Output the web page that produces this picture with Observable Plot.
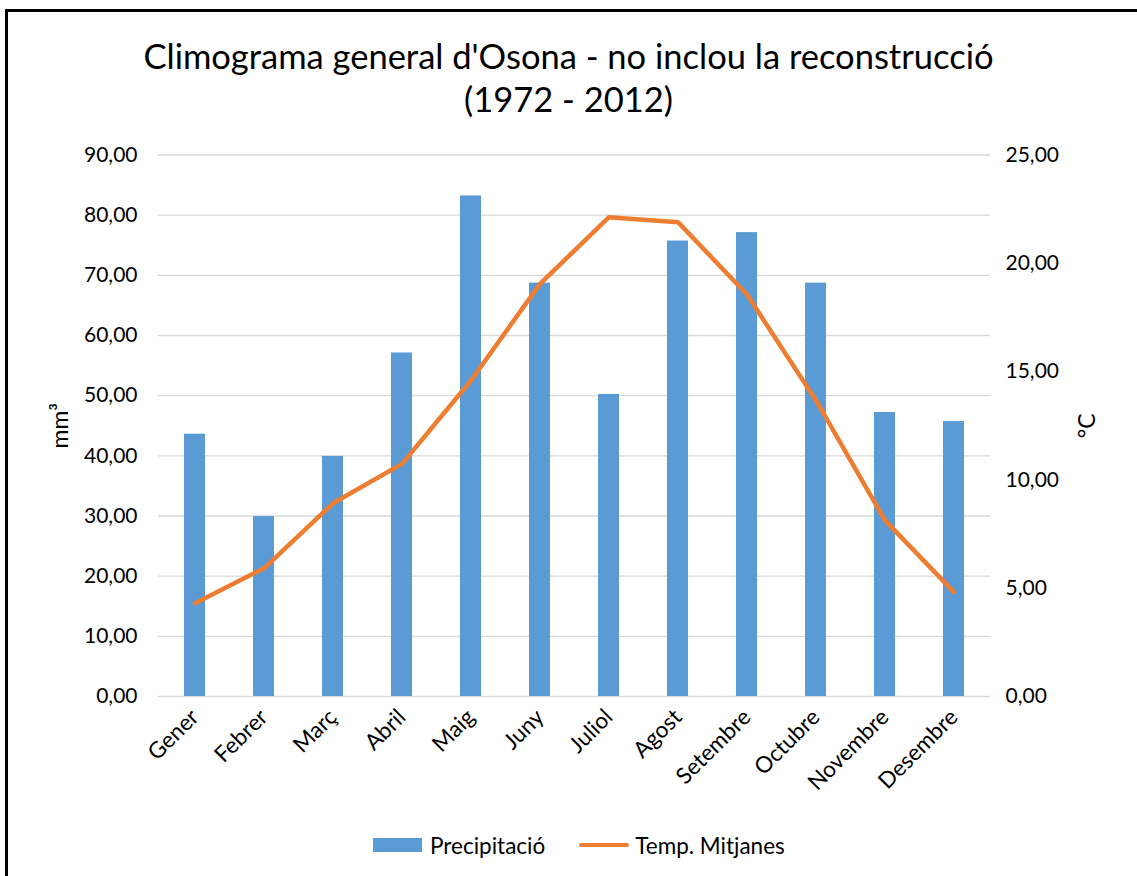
<!DOCTYPE html>
<html>
<head>
<meta charset="utf-8">
<script src="https://cdn.jsdelivr.net/npm/d3@7"></script>
<script src="https://cdn.jsdelivr.net/npm/@observablehq/plot@0.6"></script>
<style>
  html, body { margin: 0; padding: 0; background: #fff; }
  body { font-family: Lato, "Noto Sans", sans-serif; color: #000; }
  #frame { position: relative; width: 1137px; height: 876px; overflow: hidden; background: #fff; }
  #border { position: absolute; left: 5px; top: 9px; width: 1200px; height: 900px;
            border-left: 3px solid #000; border-top: 3px solid #000; pointer-events: none; }
  #title { position: absolute; top: 34px; left: 0; width: 1137px; text-align: center;
           font-size: 34.5px; line-height: 43px; }
  #chart { position: absolute; top: 135px; left: 0; }
  #legend { position: absolute; top: 832px; left: 373px; display: flex; align-items: center;
            font-size: 22.5px; height: 26px; }
  .sw-bar { width: 49px; height: 14px; background: #5B9BD5; margin-right: 8px; }
  .sw-line { width: 50px; height: 4px; background: #ED7D31; border-radius: 2px; margin-right: 6px; margin-left: 34px; }
</style>
</head>
<body>
<div id="frame">
  <div id="title"></div>
  <div id="chart"></div>
  <div id="legend"></div>
  <div id="border"></div>
</div>
<script>
const titleLines = ["Climograma general d'Osona - no inclou la reconstrucció", "(1972 - 2012)"];
const months = ["Gener", "Febrer", "Març", "Abril", "Maig", "Juny", "Juliol", "Agost", "Setembre", "Octubre", "Novembre", "Desembre"];
const precipitacio = [43.6, 29.9, 39.9, 57.1, 83.2, 68.7, 50.2, 75.7, 77.1, 68.7, 47.2, 45.7];
const tempMitjanes = [4.31, 5.92, 8.92, 10.74, 14.59, 19.05, 22.13, 21.9, 18.56, 13.67, 8.13, 4.82];
const leftTicks = [0, 10, 20, 30, 40, 50, 60, 70, 80, 90];
const rightTicks = [0, 5, 10, 15, 20, 25];
const seriesNames = ["Precipitació", "Temp. Mitjanes"];
const leftLabel = "mm³";
const rightLabel = "°C";

const leftMax = 90, rightMax = 25;
const k = leftMax / rightMax;
const fmt = d => (Math.round(d * 100) / 100).toFixed(2).replace(".", ",");

const data = months.map((m, i) => ({ month: m, precip: precipitacio[i], temp: tempMitjanes[i] }));

document.getElementById("title").innerHTML = titleLines.join("<br>");

const chart = Plot.plot({
  width: 1137,
  height: 690,
  marginLeft: 158,
  marginRight: 147,
  marginTop: 19.5,
  marginBottom: 129,
  style: { fontFamily: "Lato, 'Noto Sans', sans-serif", fontSize: "21px", color: "#000", background: "transparent", overflow: "visible" },
  x: { domain: months, paddingInner: 0.7, paddingOuter: 0.35 },
  y: { domain: [0, leftMax] },
  marks: [
    Plot.ruleY(leftTicks, { stroke: "#d9d9d9", strokeWidth: 1.3 }),
    Plot.barY(data, { x: "month", y: "precip", fill: "#5B9BD5" }),
    Plot.line(data, { x: "month", y: d => d.temp * k, stroke: "#ED7D31", strokeWidth: 4.5,
                      strokeLinejoin: "round", strokeLinecap: "round" }),
    Plot.axisX({ tickSize: 0, tickRotate: -45, tickPadding: 17, label: null, fontSize: 22.5 }),
    Plot.axisY(leftTicks, { tickSize: 0, tickPadding: 21, tickFormat: fmt, fontSize: 21, label: null }),
    Plot.axisY(rightTicks.map(t => t * k), { anchor: "right", tickSize: 0, tickPadding: 15,
                            tickFormat: d => fmt(d / k), fontSize: 21, label: null }),
    Plot.text([leftLabel], { frameAnchor: "left", rotate: -90, dx: -98, fontSize: 23, fill: "#000",
                             textAnchor: "middle", lineAnchor: "middle" }),
    Plot.text([rightLabel], { frameAnchor: "right", rotate: -90, dx: 97, fontSize: 23, fill: "#000",
                              textAnchor: "middle", lineAnchor: "middle" })
  ]
});
document.getElementById("chart").appendChild(chart);

document.getElementById("legend").innerHTML =
  `<div class="sw-bar"></div><span>${seriesNames[0]}</span><div class="sw-line"></div><span>${seriesNames[1]}</span>`;
</script>
</body>
</html>
